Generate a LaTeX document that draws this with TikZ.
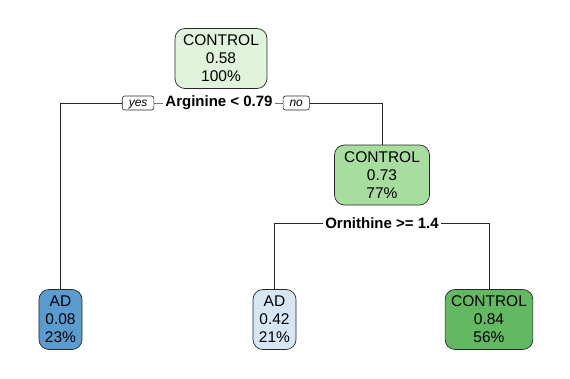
\documentclass[tikz,border=0pt]{standalone}
\usepackage{fontspec}
\setmainfont{Liberation Sans}
\usetikzlibrary{positioning,backgrounds}
\definecolor{rootfill}{RGB}{224,243,219}
\definecolor{midfill}{RGB}{168,221,160}
\definecolor{ctrlfill}{RGB}{99,185,98}
\definecolor{adfill}{RGB}{90,156,208}
\definecolor{adlight}{RGB}{215,230,245}
\definecolor{edgeline}{RGB}{40,40,40}
\tikzset{
  treenode/.style={
    draw=edgeline,
    rounded corners=10pt,
    align=center,
    inner xsep=6pt,
    minimum height=60pt,
    line width=0.7pt,
    font=\fontsize{15.5}{18}\selectfont
  },
  splitlabel/.style={
    fill=white,
    inner xsep=2pt,
    inner ysep=1pt,
    font=\fontsize{15}{18}\selectfont\bfseries
  },
  tag/.style={
    draw=edgeline,
    fill=white,
    rounded corners=2.5pt,
    inner xsep=6.5pt,
    inner ysep=1.5pt,
    text height=8.5pt,
    text depth=2.5pt,
    line width=0.6pt,
    font=\fontsize{12}{14}\selectfont\itshape
  },
  branch/.style={draw=edgeline, line width=0.8pt}
}

\begin{document}
\begin{tikzpicture}[x=1pt,y=-1pt]
  \useasboundingbox (0,0) rectangle (570,378);
  % root and first split
  \node[treenode, fill=rootfill, minimum width=92pt] (root) at (221,58.5) {CONTROL\\0.58\\100\%};
  \node[splitlabel] (arg) at (219,103) {Arginine < 0.79};
  \node[tag, left=9pt of arg] (yes) {yes};
  \node[tag, right=8pt of arg] (no) {no};

  % inner node and second split
  \node[treenode, fill=midfill, minimum width=95pt] (ctrl) at (382,175) {CONTROL\\0.73\\77\%};
  \node[splitlabel] (orn) at (382,223) {Ornithine >= 1.4};

  % leaves
  \node[treenode, fill=adfill] (adlo) at (60.5,319.5) {AD\\0.08\\23\%};
  \node[treenode, fill=adlight] (adhi) at (274.5,319.5) {AD\\0.42\\21\%};
  \node[treenode, fill=ctrlfill] (ctrlhi) at (489,319.5) {CONTROL\\0.84\\56\%};

  \begin{scope}[on background layer]
    \draw[branch] (adlo.north) |- (arg.center) -| (ctrl.north);
    \draw[branch] (adhi.north) |- (orn.center) -| (ctrlhi.north);
  \end{scope}
\end{tikzpicture}
\end{document}
